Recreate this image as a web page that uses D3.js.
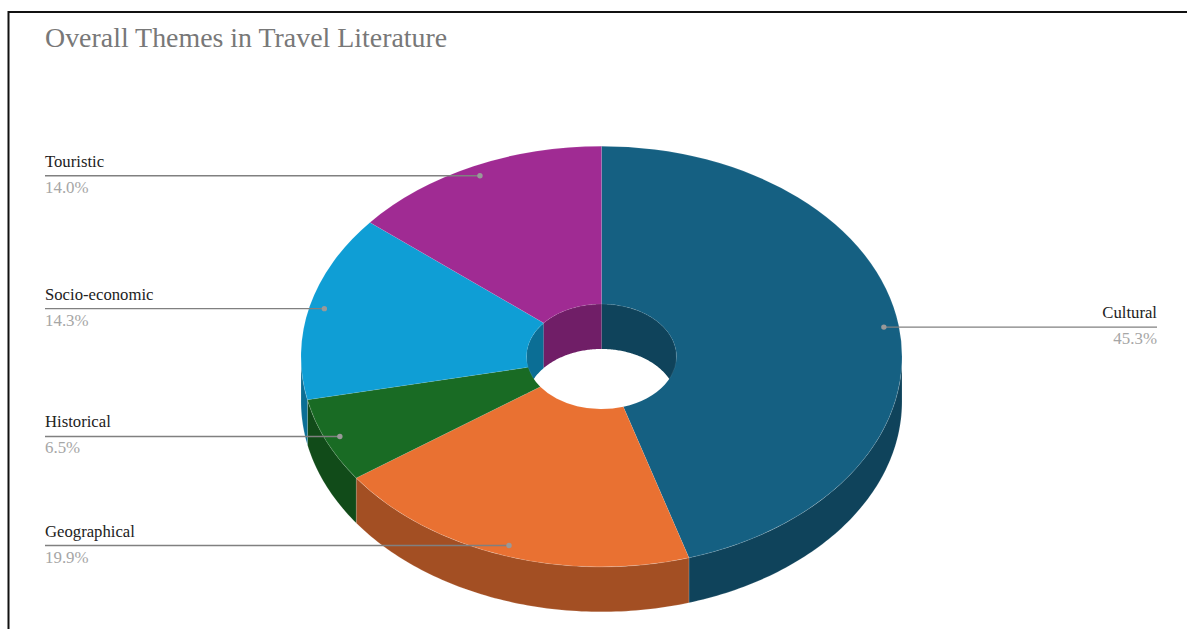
<!DOCTYPE html>
<html>
<head>
<meta charset="utf-8">
<script src="https://cdn.jsdelivr.net/npm/d3@7"></script>
<style>
  html, body { margin: 0; padding: 0; background: #fff; }
  svg { display: block; }
  text { font-family: "Liberation Serif", serif; }
</style>
</head>
<body>
<svg id="chart" width="1187" height="629"></svg>
<script>
const chartTitle = "Overall Themes in Travel Literature";
const themes = ["Cultural", "Geographical", "Historical", "Socio-economic", "Touristic"];
const shares = [45.3, 19.9, 6.5, 14.3, 14.0];
const faceColors = ["#156082", "#E97132", "#196B24", "#0F9ED5", "#A02B93"];
const wallColors = ["#0F435B", "#A34F23", "#114B19", "#0B6E95", "#701E67"];

const width = 1187, height = 629;
const cx = 601.5, cy = 356.5;
const outerR = 300.5, innerR = 75;
const tilt = 0.7, depth = 45;
const leaderLeft = 45, leaderRight = 1157;

const svg = d3.select("#chart");

// Frame along the top and left edges
svg.append("path")
  .attr("d", `M8.5,${height}V12H${width}`)
  .attr("fill", "none").attr("stroke", "#111").attr("stroke-width", 2);

svg.append("text")
  .attr("x", 45).attr("y", 47)
  .attr("font-size", 27.9).attr("fill", "#787878")
  .text(chartTitle);

const slices = d3.pie().sort(null)(shares).map((s, i) => ({ ...s, i }));

// Tilted-disc projection of an angle (clockwise from 12 o'clock) and radius
const px = (a, r) => cx + r * Math.sin(a);
const py = (a, r) => cy - r * tilt * Math.cos(a);

// A wall is the band of a ring between two angles, extruded downward
function wallPath(a0, a1, r) {
  const n = Math.max(2, Math.ceil((a1 - a0) * 60));
  const angle = d3.scaleLinear().domain([0, n]).range([a0, a1]);
  return d3.area()
    .x(t => px(angle(t), r))
    .y0(t => py(angle(t), r))
    .y1(t => py(angle(t), r) + depth)(d3.range(n + 1));
}

const TAU = Math.PI * 2;
const walls = svg.append("g");

// Outer wall shows on the front half of the disc, inner wall on the back half
slices.forEach(s => {
  const a0 = Math.max(s.startAngle, TAU / 4);
  const a1 = Math.min(s.endAngle, TAU * 3 / 4);
  if (a1 > a0) {
    walls.append("path")
      .attr("d", wallPath(a0, a1, outerR))
      .attr("fill", wallColors[s.i])
      .attr("stroke", "#fff").attr("stroke-opacity", 0.25).attr("stroke-width", 0.6);
  }
});
slices.forEach(s => {
  [[s.startAngle, Math.min(s.endAngle, TAU / 4)],
   [Math.max(s.startAngle, TAU * 3 / 4), s.endAngle]].forEach(([a0, a1]) => {
    if (a1 > a0) {
      walls.append("path")
        .attr("d", wallPath(a0, a1, innerR))
        .attr("fill", wallColors[s.i]);
    }
  });
});

// Top faces
const arc = d3.arc().innerRadius(innerR).outerRadius(outerR);
svg.append("g")
  .attr("transform", `translate(${cx},${cy}) scale(1,${tilt})`)
  .selectAll("path")
  .data(slices)
  .join("path")
  .attr("d", arc)
  .attr("fill", d => faceColors[d.i])
  .attr("stroke", "#fff").attr("stroke-opacity", 0.15).attr("stroke-width", 0.6)
  .attr("vector-effect", "non-scaling-stroke");

// Leader lines with end dots and their two-line labels
const labels = svg.append("g");
slices.forEach(s => {
  const mid = (s.startAngle + s.endAngle) / 2;
  const dx = px(mid, outerR * 0.95);
  const dy = py(mid, outerR * 0.95);
  const onRight = mid < Math.PI;
  const edge = onRight ? leaderRight : leaderLeft;
  labels.append("line")
    .attr("x1", edge).attr("x2", dx).attr("y1", dy).attr("y2", dy)
    .attr("stroke", "#808080").attr("stroke-width", 1.4);
  labels.append("circle")
    .attr("cx", dx).attr("cy", dy).attr("r", 2.7).attr("fill", "#999");
  const anchor = onRight ? "end" : "start";
  labels.append("text")
    .attr("x", edge).attr("y", dy - 9)
    .attr("text-anchor", anchor)
    .attr("font-size", 16.7).attr("fill", "#222")
    .text(themes[s.i]);
  labels.append("text")
    .attr("x", edge).attr("y", dy + 17)
    .attr("text-anchor", anchor)
    .attr("font-size", 16.9).attr("fill", "#a6a6a6")
    .text(shares[s.i].toFixed(1) + "%");
});
</script>
</body>
</html>
